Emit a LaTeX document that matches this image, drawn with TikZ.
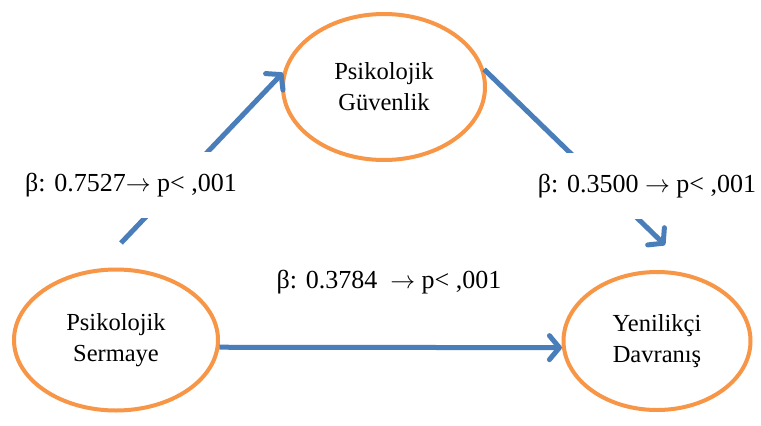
\documentclass[tikz,border=0pt]{standalone}
\usepackage{fontspec}
\setmainfont{Liberation Serif}
\usetikzlibrary{arrows.meta,shapes.geometric}
\definecolor{lineblue}{HTML}{4A7EBB}
\definecolor{ovalorange}{HTML}{F79646}
\newcommand{\arr}{\ensuremath{\rightarrow}}
\begin{document}
\begin{tikzpicture}[x=1pt,y=-1pt,
  oval/.style={ellipse, draw=ovalorange, line width=4pt, align=center,
    font=\fontsize{24.5}{31}\selectfont, inner sep=0pt},
  conn/.style={draw=lineblue, line width=5pt,
    -{Straight Barb[length=10pt,width=24pt,round]}},
  lab/.style={fill=white, font=\fontsize{26}{28}\selectfont,
    minimum height=66pt, inner xsep=2pt}]
\useasboundingbox[fill=white] (0,0) rectangle (761,426);
\node[oval, minimum width=202pt, minimum height=146pt] (g) at (384,87) {Psikolojik\\Güvenlik};
\node[oval, minimum width=204pt, minimum height=141pt] (s) at (116,340) {Psikolojik\\Sermaye};
\node[oval, minimum width=187pt, minimum height=138pt] (y) at (657,341) {Yenilikçi\\Davranış};
\coordinate (a1) at (121,243);
\coordinate (a2) at (665,245);
\draw[conn] (a1) -- (g.172);
\draw[conn] (g.10) -- (a2);
\draw[conn] (s.-4) -- (y.184);
\node[lab] (l1) at (131,185) {β: 0.7527\arr{} p< ,001};
\node[lab] (l2) at (647,186) {β: 0.3500 \arr{} p< ,001};
\node[lab] (l3) at (389,282) {β: 0.3784\ \ \arr{} p< ,001};
\end{tikzpicture}
\end{document}
